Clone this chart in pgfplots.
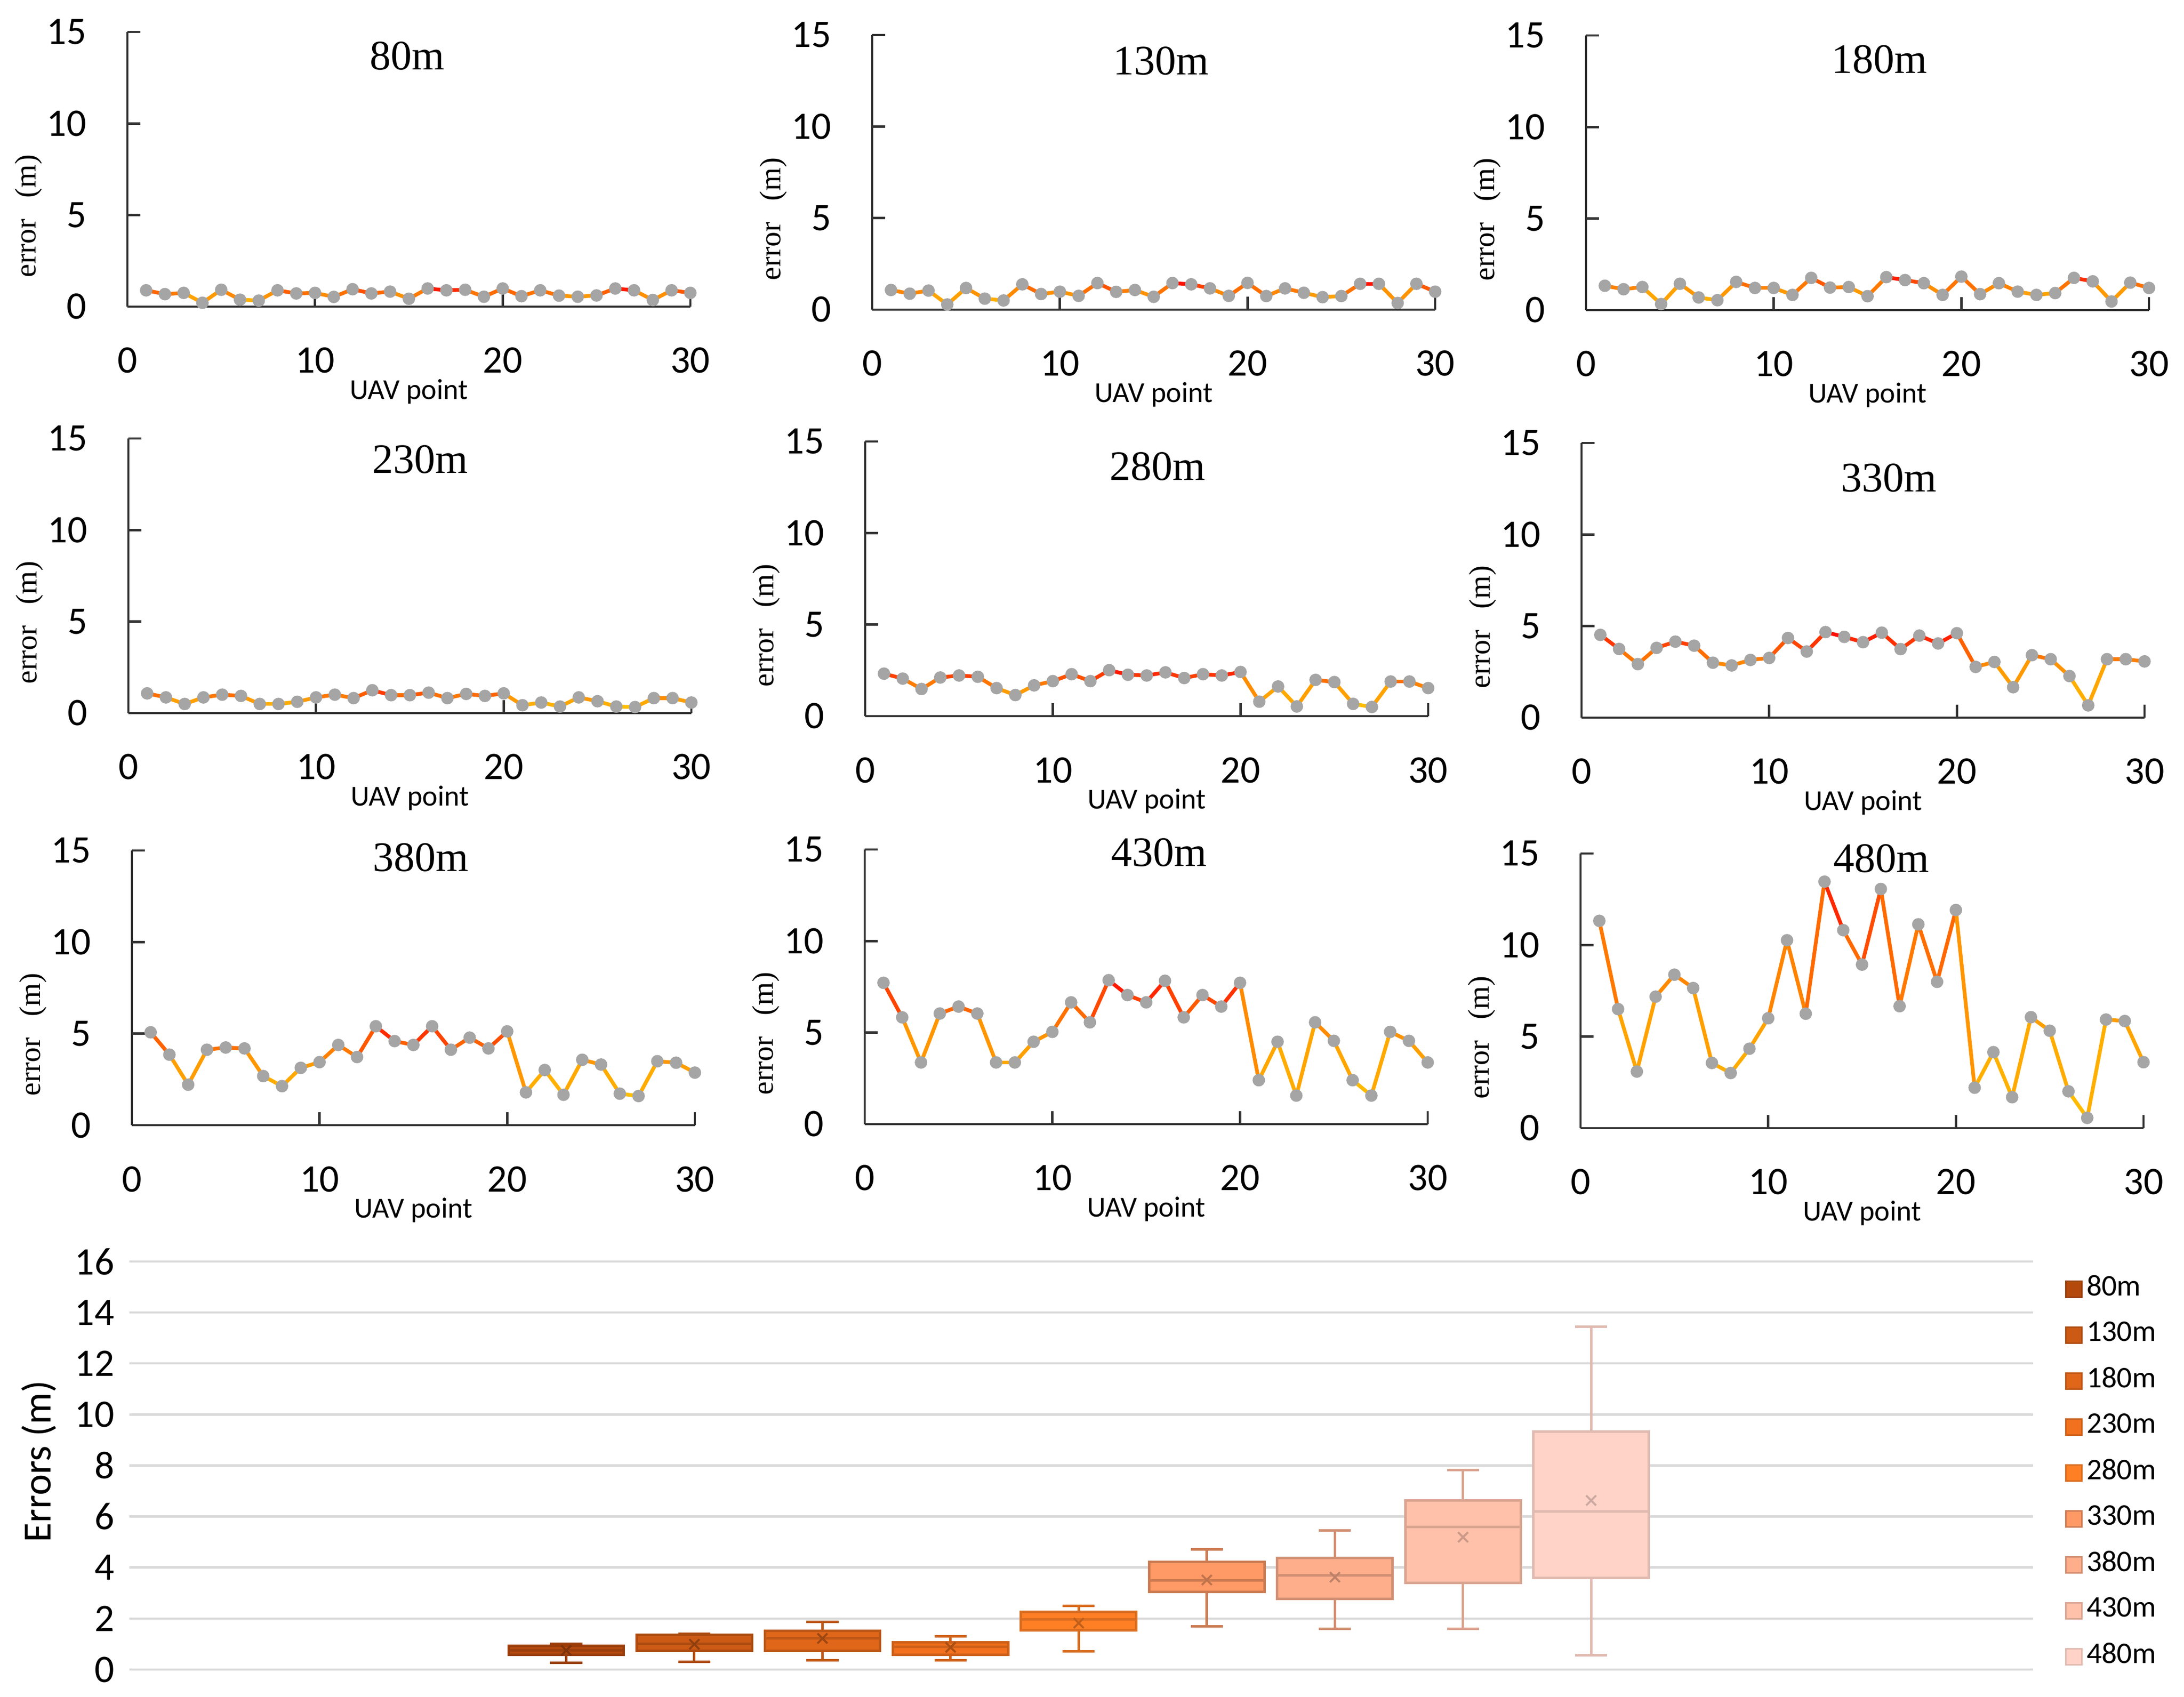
\documentclass[border=0pt]{standalone}
\usepackage{fontspec}
\setmainfont{Carlito}
\newfontfamily\tnr{Liberation Serif}
\usepackage{pgfplots}
\pgfplotsset{compat=1.18}
\usepackage{pgfplotstable}
\usepgfplotslibrary{statistics}

\definecolor{markgray}{RGB}{165,165,165}
\definecolor{cA}{RGB}{180,73,14}
\definecolor{cB}{RGB}{204,90,20}
\definecolor{cC}{RGB}{224,102,26}
\definecolor{cD}{RGB}{242,113,30}
\definecolor{cE}{RGB}{255,127,36}
\definecolor{cF}{RGB}{255,154,102}
\definecolor{cG}{RGB}{255,174,140}
\definecolor{cH}{RGB}{255,193,170}
\definecolor{cI}{RGB}{255,211,200}

\pgfplotstableread{
x m80 m130 m180 m230 m280 m330 m380 m430 m480
1 0.89 1.07 1.33 1.08 2.32 4.52 5.07 7.72 11.32
2 0.68 0.87 1.14 0.86 2.05 3.75 3.85 5.83 6.50
3 0.75 1.04 1.26 0.50 1.48 2.92 2.21 3.37 3.09
4 0.21 0.28 0.33 0.86 2.11 3.81 4.12 6.04 7.18
5 0.92 1.18 1.44 1.01 2.22 4.15 4.24 6.42 8.38
6 0.38 0.60 0.69 0.94 2.15 3.93 4.19 6.04 7.65
7 0.33 0.50 0.54 0.50 1.53 3.00 2.68 3.37 3.56
8 0.89 1.38 1.54 0.50 1.15 2.85 2.13 3.37 3.01
9 0.72 0.85 1.21 0.62 1.68 3.15 3.13 4.50 4.34
10 0.75 0.98 1.21 0.86 1.91 3.26 3.44 5.04 6.00
11 0.53 0.75 0.83 1.01 2.29 4.35 4.38 6.65 10.26
12 0.95 1.45 1.76 0.82 1.91 3.61 3.72 5.56 6.25
13 0.72 0.97 1.23 1.25 2.51 4.67 5.40 7.86 13.46
14 0.82 1.07 1.26 0.98 2.26 4.41 4.59 7.05 10.81
15 0.43 0.70 0.76 0.98 2.22 4.12 4.38 6.65 8.93
16 0.99 1.45 1.80 1.12 2.39 4.64 5.40 7.83 13.06
17 0.89 1.38 1.64 0.82 2.08 3.74 4.12 5.83 6.66
18 0.92 1.16 1.47 1.05 2.29 4.48 4.78 7.05 11.13
19 0.54 0.75 0.83 0.94 2.22 4.05 4.19 6.42 7.99
20 0.99 1.46 1.83 1.08 2.41 4.61 5.12 7.72 11.91
21 0.57 0.74 0.87 0.43 0.79 2.77 1.79 2.40 2.21
22 0.89 1.16 1.47 0.58 1.62 3.04 3.01 4.50 4.15
23 0.60 0.92 1.01 0.36 0.53 1.66 1.66 1.56 1.69
24 0.54 0.68 0.83 0.86 1.98 3.41 3.57 5.56 6.06
25 0.61 0.74 0.93 0.65 1.86 3.19 3.31 4.55 5.32
26 0.99 1.41 1.76 0.36 0.67 2.27 1.72 2.40 2.01
27 0.89 1.41 1.57 0.33 0.50 0.67 1.59 1.56 0.56
28 0.36 0.36 0.47 0.82 1.89 3.19 3.49 5.04 5.93
29 0.89 1.41 1.50 0.82 1.89 3.19 3.41 4.55 5.85
30 0.75 0.98 1.21 0.58 1.53 3.07 2.87 3.37 3.60
}\errtab

\pgfplotsset{
  panel/.style={
    anchor=south west,
    scale only axis, width=112.7pt, height=55pt,
    xmin=0, xmax=30, ymin=0, ymax=15,
    xtick={0,10,20,30}, ytick={0,5,10,15},
    axis x line=bottom, axis y line=left,
    axis line style={-, black!80, line width=0.45pt},
    tick style={black!80, line width=0.45pt},
    tick align=inside, major tick length=2.6pt,
    /pgf/number format/assume math mode=true,
    tick label style={font=\fontsize{7.8}{8}\selectfont},
    xticklabel style={anchor=center, yshift=-10.8pt},
    yticklabel style={anchor=east, inner sep=0pt, xshift=-8pt},
    xlabel={UAV point},
    xlabel style={at={(axis description cs:0.5,-0.31)}, anchor=center, font=\fontsize{5.8}{6}\selectfont},
    ylabel={error\hspace{0.7em}(m)},
    ylabel style={at={(axis description cs:-0.176,0.33)}, anchor=center, font=\tnr\fontsize{6}{6}\selectfont},
    colormap={ry}{rgb255(0cm)=(255,192,0) rgb255(5cm)=(255,150,0) rgb255(7.5cm)=(255,100,0) rgb255(10cm)=(255,0,0)},
    clip=false,
  },
}

\newcommand{\panel}[6]{%
  \begin{axis}[panel, at={(#1pt,#2pt)}]
    \addplot[mesh, line width=0.75pt, point meta=y] table[x=x, y=#6]{\errtab};
    \addplot[only marks, mark=*, mark size=1.05pt, color=markgray] table[x=x, y=#6]{\errtab};
    \node[anchor=center, inner sep=0pt, font=\tnr\fontsize{8.4}{9}\selectfont] at (axis description cs:#4,#5) {#3};
  \end{axis}}

\newcommand{\bx}[8]{%
  \addplot[forget plot, draw=#2, fill=#3, line width=0.5pt,
    boxplot prepared={draw position=#1, lower whisker=#4, lower quartile=#5,
      median=#6, upper quartile=#7, upper whisker=#8,
      box extend=0.9, whisker extend=0.25}] coordinates {};}

\begin{document}
\begin{tikzpicture}
\path[use as bounding box] (0,0) rectangle (437.2pt,339.8pt);

\panel{25.5}{278.4}{80m}{0.497}{0.912}{m80}
\panel{174.6}{277.8}{130m}{0.513}{0.906}{m130}
\panel{317.5}{277.7}{180m}{0.521}{0.913}{m180}
\panel{25.7}{197.0}{230m}{0.518}{0.923}{m230}
\panel{173.2}{196.4}{280m}{0.519}{0.909}{m280}
\panel{316.6}{196.1}{330m}{0.546}{0.873}{m330}
\panel{26.4}{114.5}{380m}{0.513}{0.975}{m380}
\panel{173.1}{114.7}{430m}{0.523}{0.989}{m430}
\panel{316.4}{113.9}{480m}{0.534}{0.982}{m480}

\begin{axis}[
  anchor=south west, at={(25.9pt,5.5pt)},
  scale only axis, width=381.1pt, height=81.7pt,
  xmin=-3.41, xmax=11.45, ymin=0, ymax=16,
  ytick={0,2,...,16}, xtick=\empty,
  ymajorgrids, grid style={draw=black!15, line width=0.45pt},
  axis line style={draw=none}, major tick length=0pt,
  /pgf/number format/assume math mode=true,
  yticklabel style={font=\fontsize{7.8}{8}\selectfont, anchor=east, inner sep=0pt, xshift=-2.8pt},
  ylabel={Errors (m)},
  ylabel style={at={(axis description cs:-0.0475,0.51)}, anchor=center, font=\fontsize{8}{8}\selectfont},
  boxplot/draw direction=y,
  clip=false,
  legend style={at={(axis description cs:1.0163,0.978)}, anchor=north west,
    draw=none, fill=none, inner sep=0pt, row sep=2.1pt,
    font=\fontsize{6}{6}\selectfont,
    nodes={inner sep=0.8pt}},
  legend cell align=left,
  legend image code/.code={\filldraw[#1, line width=0.3pt] (0pt,-1.6pt) rectangle (3.2pt,1.6pt);},
]
\bx{0}{cA!85!black}{cA}{0.27}{0.58}{0.75}{0.93}{1.01}
\bx{1}{cB!85!black}{cB}{0.31}{0.73}{1.01}{1.37}{1.40}
\bx{2}{cC!85!black}{cC}{0.37}{0.73}{1.22}{1.51}{1.86}
\bx{3}{cD!85!black}{cD}{0.37}{0.58}{0.89}{1.07}{1.31}
\bx{4}{cE!85!black}{cE}{0.72}{1.53}{1.97}{2.26}{2.49}
\bx{5}{cF!80!black}{cF}{1.70}{3.04}{3.50}{4.21}{4.70}
\bx{6}{cG!82!black}{cG}{1.60}{2.78}{3.69}{4.38}{5.45}
\bx{7}{cH!85!black}{cH}{1.60}{3.40}{5.59}{6.63}{7.83}
\bx{8}{cI!88!black}{cI}{0.56}{3.59}{6.20}{9.33}{13.45}
\addplot[forget plot, only marks, mark=x, mark size=1.4pt, mark options={line width=0.4pt}, color=cA!70!black] coordinates {(0,0.75)};
\addplot[forget plot, only marks, mark=x, mark size=1.4pt, mark options={line width=0.4pt}, color=cB!70!black] coordinates {(1,0.99)};
\addplot[forget plot, only marks, mark=x, mark size=1.4pt, mark options={line width=0.4pt}, color=cC!70!black] coordinates {(2,1.22)};
\addplot[forget plot, only marks, mark=x, mark size=1.4pt, mark options={line width=0.4pt}, color=cD!70!black] coordinates {(3,0.87)};
\addplot[forget plot, only marks, mark=x, mark size=1.4pt, mark options={line width=0.4pt}, color=cE!75!black] coordinates {(4,1.82)};
\addplot[forget plot, only marks, mark=x, mark size=1.4pt, mark options={line width=0.4pt}, color=cF!75!black] coordinates {(5,3.51)};
\addplot[forget plot, only marks, mark=x, mark size=1.4pt, mark options={line width=0.4pt}, color=cG!75!black] coordinates {(6,3.62)};
\addplot[forget plot, only marks, mark=x, mark size=1.4pt, mark options={line width=0.4pt}, color=cH!80!black] coordinates {(7,5.19)};
\addplot[forget plot, only marks, mark=x, mark size=1.4pt, mark options={line width=0.4pt}, color=cI!80!black] coordinates {(8,6.63)};
\addlegendimage{draw=cA!85!black, fill=cA}\addlegendentry{80m}
\addlegendimage{draw=cB!85!black, fill=cB}\addlegendentry{130m}
\addlegendimage{draw=cC!85!black, fill=cC}\addlegendentry{180m}
\addlegendimage{draw=cD!85!black, fill=cD}\addlegendentry{230m}
\addlegendimage{draw=cE!85!black, fill=cE}\addlegendentry{280m}
\addlegendimage{draw=cF!80!black, fill=cF}\addlegendentry{330m}
\addlegendimage{draw=cG!82!black, fill=cG}\addlegendentry{380m}
\addlegendimage{draw=cH!85!black, fill=cH}\addlegendentry{430m}
\addlegendimage{draw=cI!88!black, fill=cI}\addlegendentry{480m}
\end{axis}
\end{tikzpicture}
\end{document}
